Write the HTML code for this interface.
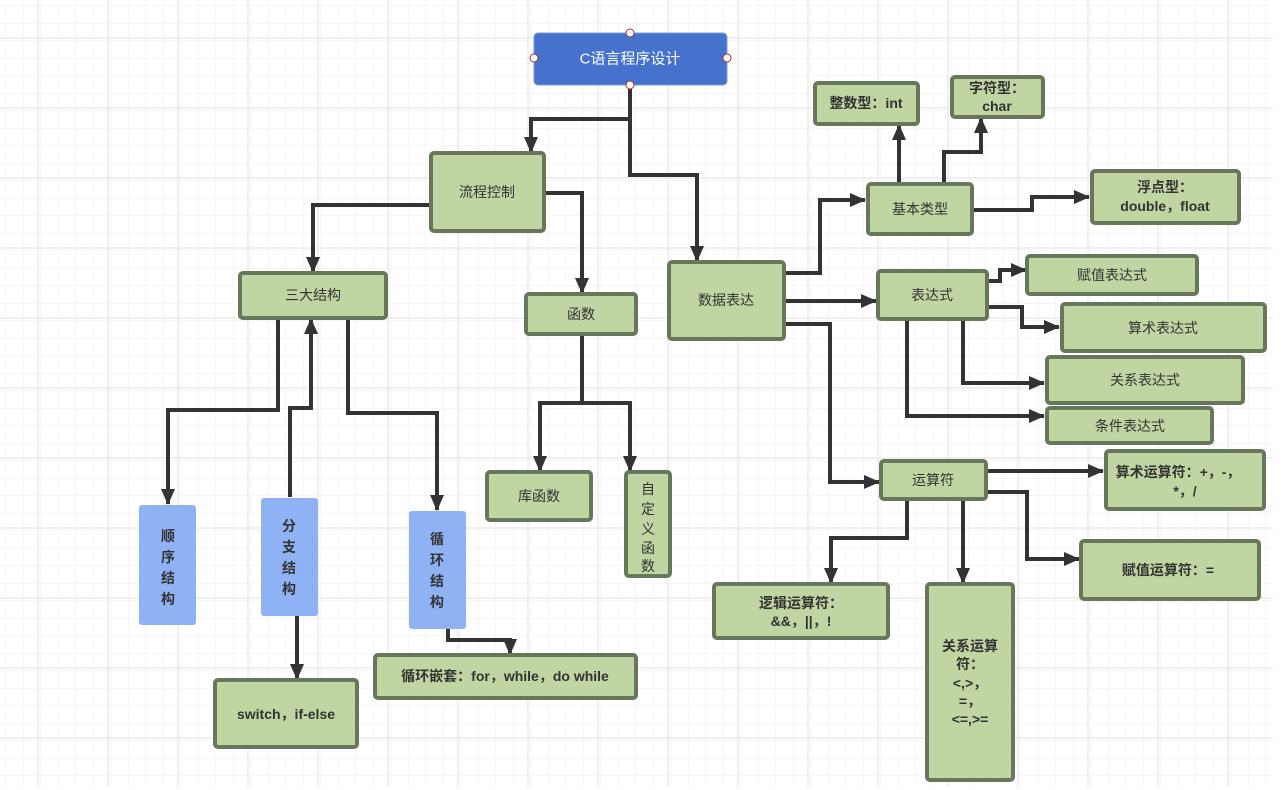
<!DOCTYPE html>
<html><head><meta charset="utf-8"><style>
html,body{margin:0;padding:0;background:#fff}
svg{display:block}
text{font-family:"Liberation Sans","Noto Sans CJK SC",sans-serif;font-size:14px;fill:#333;text-anchor:middle;dominant-baseline:central}
</style></head><body>
<svg width="1288" height="790" viewBox="0 0 1288 790" xmlns="http://www.w3.org/2000/svg">
<defs>
<pattern id="g" x="3" y="3" width="17.5" height="17.5" patternUnits="userSpaceOnUse"><path d="M17.5 0V17.5M0 17.5H17.5" stroke="#eeeeee" stroke-width="1" fill="none"/></pattern>
<pattern id="G" x="3" y="3" width="70" height="70" patternUnits="userSpaceOnUse"><rect width="70" height="70" fill="url(#g)"/><path d="M35 0V70M0 35H70" stroke="#e6e6e6" stroke-width="1.2" fill="none"/></pattern>
<marker id="a" markerWidth="10" markerHeight="10" refX="9" refY="5" orient="auto" markerUnits="userSpaceOnUse"><path d="M0 0L10 5L0 10Z" fill="#333"/></marker>
<marker id="b" markerWidth="16" markerHeight="14" refX="15" refY="7" orient="auto" markerUnits="userSpaceOnUse"><path d="M0 0L16 7L0 14Z" fill="#333"/></marker>
</defs>
<rect width="1273" height="787" fill="url(#G)"/>
<g fill="none" stroke="#333" stroke-width="4" marker-end="url(#b)">
<path d="M630 85V119H531V152"/>
<path d="M630 119V175H697V261"/>
<path d="M431 205H313V272"/>
<path d="M544 193H582V293"/>
<path d="M278 318V410H168V504"/>
<path d="M290 497V408H311V319"/>
<path d="M348 318V413H437V510"/>
<path d="M297 616V679"/>
<path d="M448 629V640H510V654"/>
<path d="M582 334V403H540V471"/>
<path d="M582 403H630V471"/>
<path d="M784 273H820V200H865"/>
<path d="M784 301H876"/>
<path d="M784 324H830V482H879"/>
<path d="M899 184V125"/>
<path d="M944 184V152H981V118"/>
<path d="M972 210H1032V197H1089"/>
<path d="M987 281H1000V270H1026"/>
<path d="M987 307H1022V327H1059"/>
<path d="M963 319V383H1044"/>
<path d="M907 319V416H1044"/>
<path d="M986 471H1103"/>
<path d="M986 492H1027V559H1079"/>
<path d="M963 499V583"/>
<path d="M907 499V538H831V583"/>
</g>
<g fill="#c0d5a2" stroke="#67775a" stroke-width="4">
<rect x="431" y="153" width="113" height="78" rx="3"/>
<rect x="669" y="262" width="115" height="77" rx="3"/>
<rect x="240" y="273" width="146" height="45" rx="3"/>
<rect x="526" y="294" width="110" height="40" rx="3"/>
<rect x="487" y="472" width="104" height="48" rx="3"/>
<rect x="626" y="472" width="44" height="104" rx="3"/>
<rect x="215" y="680" width="142" height="67" rx="3"/>
<rect x="375" y="655" width="261" height="43" rx="3"/>
<rect x="815" y="83" width="103" height="41" rx="3"/>
<rect x="952" y="77" width="91" height="40" rx="3"/>
<rect x="868" y="184" width="104" height="50" rx="3"/>
<rect x="1092" y="171" width="147" height="52" rx="3"/>
<rect x="878" y="271" width="109" height="48" rx="3"/>
<rect x="1027" y="256" width="170" height="38" rx="3"/>
<rect x="1062" y="304" width="203" height="47" rx="3"/>
<rect x="1047" y="357" width="196" height="46" rx="3"/>
<rect x="1047" y="408" width="165" height="35" rx="3"/>
<rect x="881" y="461" width="105" height="38" rx="3"/>
<rect x="1106" y="451" width="158" height="58" rx="3"/>
<rect x="1081" y="541" width="178" height="58" rx="3"/>
<rect x="714" y="584" width="174" height="54" rx="3"/>
<rect x="927" y="584" width="86" height="196" rx="3"/>
</g>
<g fill="#8fb2f5">
<rect x="139" y="505" width="57" height="120" rx="3"/>
<rect x="261" y="498" width="57" height="118" rx="3"/>
<rect x="409" y="511" width="57" height="118" rx="3"/>
</g>
<rect x="534" y="33" width="193" height="52" rx="4" fill="#4472cc" stroke="#7c9bd9" stroke-width="1"/>
<text x="630" y="59" style="fill:#fff;font-size:15px">C语言程序设计</text>
<g fill="#fff" stroke="#b03030" stroke-width="1"><circle cx="630" cy="33" r="4"/><circle cx="534" cy="58" r="4"/><circle cx="727" cy="58" r="4"/><circle cx="630" cy="85" r="4"/></g>
<text x="487" y="192">流程控制</text>
<text x="726" y="300">数据表达</text>
<text x="313" y="295">三大结构</text>
<text x="581" y="314">函数</text>
<text x="539" y="496">库函数</text>
<text x="648" y="489">自</text><text x="648" y="509">定</text><text x="648" y="529">义</text><text x="648" y="548">函</text><text x="648" y="566">数</text>
<g style="font-size:16px;font-weight:bold"><text x="168" y="536">顺</text><text x="168" y="557">序</text><text x="168" y="578">结</text><text x="168" y="599">构</text>
<text x="289" y="526">分</text><text x="289" y="547">支</text><text x="289" y="568">结</text><text x="289" y="589">构</text>
<text x="437" y="539">循</text><text x="437" y="560">环</text><text x="437" y="581">结</text><text x="437" y="602">构</text></g>
<g style="font-weight:bold">
<text x="286" y="714">switch，if-else</text>
<text x="505" y="676">循环嵌套：for，while，do  while</text>
<text x="866" y="103">整数型：int</text>
<text x="997" y="88">字符型：</text><text x="997" y="106">char</text>
<text x="1165" y="187">浮点型：</text><text x="1165" y="206">double，float</text>
<text x="1178" y="472">算术运算符：+，-，</text><text x="1185" y="491">*，/</text>
<text x="1168" y="570">赋值运算符：=</text>
<text x="801" y="603">逻辑运算符：</text><text x="801" y="621">&amp;&amp;，||，!</text>
<text x="970" y="646">关系运算</text><text x="970" y="664">符：</text><text x="970" y="683">&lt;,&gt;，</text><text x="970" y="701">=，</text><text x="970" y="719">&lt;=,&gt;=</text>
</g>
<text x="920" y="209">基本类型</text>
<text x="932" y="295">表达式</text>
<text x="1112" y="275">赋值表达式</text>
<text x="1163" y="328">算术表达式</text>
<text x="1145" y="380">关系表达式</text>
<text x="1130" y="426">条件表达式</text>
<text x="933" y="480">运算符</text>
</svg>
</body></html>
